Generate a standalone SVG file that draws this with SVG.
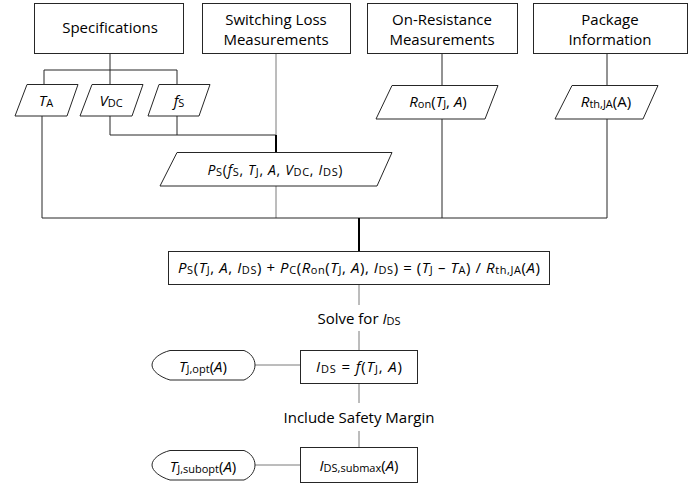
<svg xmlns="http://www.w3.org/2000/svg" width="697" height="485" viewBox="0 0 697 485">
<style>
.box{fill:#fff;stroke:#262626;stroke-width:1}
.ln{fill:none;stroke:#262626;stroke-width:1}
.lg{fill:none;stroke:#7a7a7a;stroke-width:1}
.lb{fill:none;stroke:#000;stroke-width:2}
text{font-family:"Open Sans","Noto Sans","DejaVu Sans",sans-serif;font-size:15px;fill:#000;text-anchor:middle}
.i{font-style:italic}
.s{font-size:11px;font-style:normal}
</style>
<rect width="697" height="485" fill="#fff"/>
<g id="connectors">
<path class="ln" d="M110,53V70M44,70H177M44,70V84M110,70V84M177,70V84"/>
<path class="ln" d="M42,116V218M110,116V135H276M177,116V135"/>
<path class="lg" d="M276,53V135"/>
<path class="lb" d="M276,135V152"/>
<path class="lg" d="M276,186V218"/>
<path class="ln" d="M442,53V85M607,53V85"/>
<path class="ln" d="M442,119V218M607,119V218M42,218H607"/>
<path class="lb" d="M359,218V251"/>
<path class="lg" d="M359,284V305M359,331V350M359,383V403M359,431V447"/>
<path class="lg" d="M255,365H300M255,465H300"/>
</g>
<g id="specifications"><rect class="box" x="34.5" y="3.5" width="149" height="50"/><text x="110" y="33">Specifications</text></g>
<g id="switching"><rect class="box" x="202.5" y="3.5" width="148" height="50"/><text x="276" y="25">Switching Loss</text><text x="276" y="45">Measurements</text></g>
<g id="onres"><rect class="box" x="367.5" y="3.5" width="150" height="50"/><text x="442" y="25">On-Resistance</text><text x="442" y="45">Measurements</text></g>
<g id="package"><rect class="box" x="533.5" y="3.5" width="154" height="50"/><text x="610" y="25">Package</text><text x="610" y="45">Information</text></g>
<g id="ta"><path class="box" d="M27,84.5H78L67,116H15Z"/><text x="46" y="106"><tspan class="i">T</tspan><tspan class="s" dy="1">A</tspan></text></g>
<g id="vdc"><path class="box" d="M92,84.5H143L132,116H80Z"/><text x="111" y="106"><tspan class="i">V</tspan><tspan class="s" dy="1">DC</tspan></text></g>
<g id="fs"><path class="box" d="M159,84.5H210L199,116H148Z"/><text x="179" y="106"><tspan class="i">f</tspan><tspan class="s" dy="1">S</tspan></text></g>
<g id="ron"><path class="box" d="M392,85.5H498L485,119H376Z"/><text x="438" y="107"><tspan class="i">R</tspan><tspan class="s" dy="1">on</tspan><tspan dy="-1">(</tspan><tspan class="i">T</tspan><tspan class="s" dy="1">J</tspan><tspan dy="-1">, </tspan><tspan class="i">A</tspan>)</text></g>
<g id="rth"><path class="box" d="M572,85.5H658L643,119H555Z"/><text x="606" y="107"><tspan class="i">R</tspan><tspan class="s" dy="1">th,JA</tspan><tspan dy="-1">(A)</tspan></text></g>
<g id="ps"><path class="box" d="M177,152.5H392L377,186H160Z"/><text x="275" y="175" style="font-size:14px" textLength="135" lengthAdjust="spacing"><tspan class="i">P</tspan><tspan class="s" dy="1">S</tspan><tspan dy="-1">(</tspan><tspan class="i">f</tspan><tspan class="s" dy="1">S</tspan><tspan dy="-1">, </tspan><tspan class="i">T</tspan><tspan class="s" dy="1">J</tspan><tspan dy="-1">, </tspan><tspan class="i">A</tspan>, <tspan class="i">V</tspan><tspan class="s" dy="1">DC</tspan><tspan dy="-1">, </tspan><tspan class="i">I</tspan><tspan class="s" dy="1">DS</tspan><tspan dy="-1">)</tspan></text></g>
<g id="equation"><rect class="box" x="168.5" y="251.5" width="381" height="33"/><text x="359" y="273" textLength="362" lengthAdjust="spacing"><tspan class="i">P</tspan><tspan class="s" dy="1">S</tspan><tspan dy="-1">(</tspan><tspan class="i">T</tspan><tspan class="s" dy="1">J</tspan><tspan dy="-1">, </tspan><tspan class="i">A</tspan>, <tspan class="i">I</tspan><tspan class="s" dy="1">DS</tspan><tspan dy="-1">) + </tspan><tspan class="i">P</tspan><tspan class="s" dy="1">C</tspan><tspan dy="-1">(</tspan><tspan class="i">R</tspan><tspan class="s" dy="1">on</tspan><tspan dy="-1">(</tspan><tspan class="i">T</tspan><tspan class="s" dy="1">J</tspan><tspan dy="-1">, </tspan><tspan class="i">A</tspan>), <tspan class="i">I</tspan><tspan class="s" dy="1">DS</tspan><tspan dy="-1">) = (</tspan><tspan class="i">T</tspan><tspan class="s" dy="1">J</tspan><tspan dy="-1"> – </tspan><tspan class="i">T</tspan><tspan class="s" dy="1">A</tspan><tspan dy="-1">) / </tspan><tspan class="i">R</tspan><tspan class="s" dy="1">th,JA</tspan><tspan dy="-1">(</tspan><tspan class="i">A</tspan>)</text></g>
<g id="solve"><text x="359" y="324">Solve for <tspan class="i">I</tspan><tspan class="s" dy="1">DS</tspan></text></g>
<g id="ids"><rect class="box" x="300.5" y="350.5" width="117" height="33"/><text x="359" y="372" textLength="86" lengthAdjust="spacing"><tspan class="i">I</tspan><tspan class="s" dy="1">DS</tspan><tspan dy="-1"> = </tspan><tspan class="i">f</tspan>(<tspan class="i">T</tspan><tspan class="s" dy="1">J</tspan><tspan dy="-1">, </tspan><tspan class="i">A</tspan>)</text></g>
<g id="tjopt"><path class="box" d="M170,350.5H244C251,353 255,359 255,365C255,371 251,377 244,380H170C160,377 152,371 152,365C152,359 160,353 170,350.5Z"/><text x="203" y="372"><tspan class="i">T</tspan><tspan class="s" dy="1">J,opt</tspan><tspan dy="-1">(</tspan><tspan class="i">A</tspan>)</text></g>
<g id="margin"><text x="359" y="423">Include Safety Margin</text></g>
<g id="submax"><rect class="box" x="300.5" y="447.5" width="117" height="35"/><text x="359" y="471"><tspan class="i">I</tspan><tspan class="s" dy="1">DS,submax</tspan><tspan dy="-1">(</tspan><tspan class="i">A</tspan>)</text></g>
<g id="tjsubopt"><path class="box" d="M170,450.5H244C251,453 255,459 255,465C255,471 251,477 244,480H170C160,477 152,471 152,465C152,459 160,453 170,450.5Z"/><text x="203" y="472"><tspan class="i">T</tspan><tspan class="s" dy="1">J,subopt</tspan><tspan dy="-1">(</tspan><tspan class="i">A</tspan>)</text></g>
</svg>
